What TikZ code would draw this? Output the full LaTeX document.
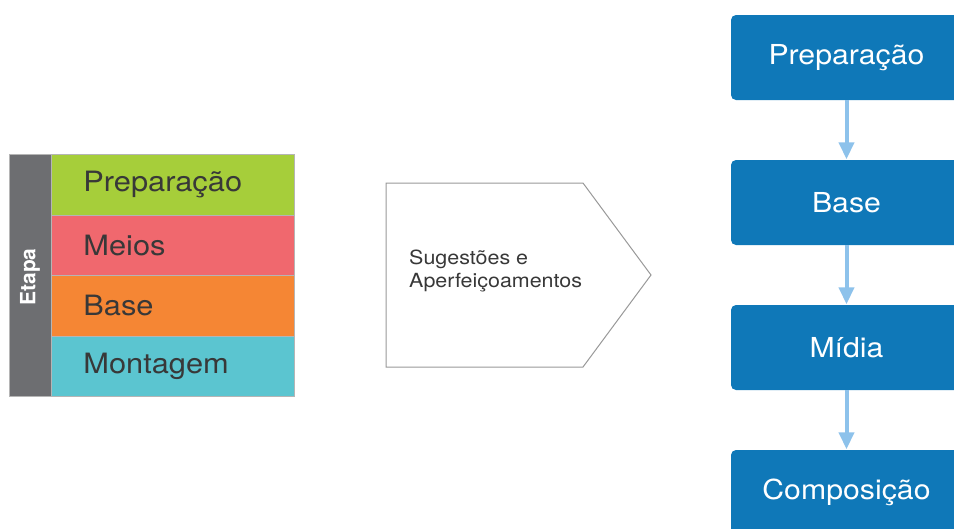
\documentclass[tikz,border=0pt]{standalone}
\usepackage{fontspec}
\setmainfont[FakeStretch=1.1]{TeX Gyre Heros}
\newfontfamily\labelfont{TeX Gyre Heros}
\usetikzlibrary{arrows.meta,positioning}
\definecolor{stagegray}{HTML}{6D6E71}
\definecolor{stagegreen}{HTML}{A6CE3A}
\definecolor{stagered}{HTML}{F0686E}
\definecolor{stageorange}{HTML}{F58634}
\definecolor{stagecyan}{HTML}{5BC5D0}
\definecolor{rowtext}{HTML}{383838}
\definecolor{flowblue}{HTML}{0F78B8}
\definecolor{flowarrow}{HTML}{8DC2EB}
\definecolor{rimgray}{HTML}{B5B5B5}
\tikzset{
  rowbox/.style={draw=rimgray, line width=0.8pt, anchor=north west,
    minimum width=243pt, minimum height=60.5pt, inner xsep=32pt,
    text width=179pt, align=left, text=rowtext,
    font=\fontsize{28}{30}\selectfont},
  flowbox/.style={fill=flowblue, rounded corners=5pt, minimum width=231pt,
    minimum height=85pt, text=white, font=\fontsize{27.5}{30}\selectfont},
  flowlink/.style={draw=flowarrow, line width=4pt,
    -{Triangle[width=15pt,length=17pt]}, shorten >=0.5pt}
}
\begin{document}
\begin{tikzpicture}[x=1pt,y=-1pt]
\useasboundingbox (0,0) rectangle (954,528);
\begin{scope}
\clip (0,0) rectangle (954,528);
% stage table
\node[fill=stagegray, draw=rimgray, line width=0.8pt, anchor=north west,
  minimum width=42pt, minimum height=242pt, inner sep=0pt] (etapa) at (9,154) {};
\node[rotate=90, text=white, font=\labelfont\bfseries\fontsize{21}{24}\selectfont]
  (etapalabel) at (30,277) {Etapa};
\node[rowbox, fill=stagegreen] (prep) at (51,154) {Preparação};
\node[rowbox, fill=stagered] (meios) at (51,214.5) {Meios};
\node[rowbox, fill=stageorange] (base) at (51,275) {Base};
\node[rowbox, fill=stagecyan] (mont) at (51,335.5) {Montagem};

% feedback pentagon
\draw[draw=gray!80, line width=1pt, fill=white]
  (386,183) -- (583,183) -- (651,275) -- (583,367) -- (386,367) -- cycle;
\node[anchor=north west, align=left, inner sep=0pt, text=rowtext,
  font=\fontsize{19.5}{23}\selectfont] (sugest) at (409,250)
  {Sugestões e\\Aperfeiçoamentos};

% flow on the right
\node[flowbox] (f1) at (846.5,57.5) {Preparação};
\node[flowbox] (f2) at (846.5,202.5) {Base};
\node[flowbox] (f3) at (846.5,347.5) {Mídia};
\node[flowbox] (f4) at (846.5,492.5) {Composição};
\draw[flowlink] (f1.south) -- (f2.north);
\draw[flowlink] (f2.south) -- (f3.north);
\draw[flowlink] (f3.south) -- (f4.north);
\end{scope}
\end{tikzpicture}
\end{document}
